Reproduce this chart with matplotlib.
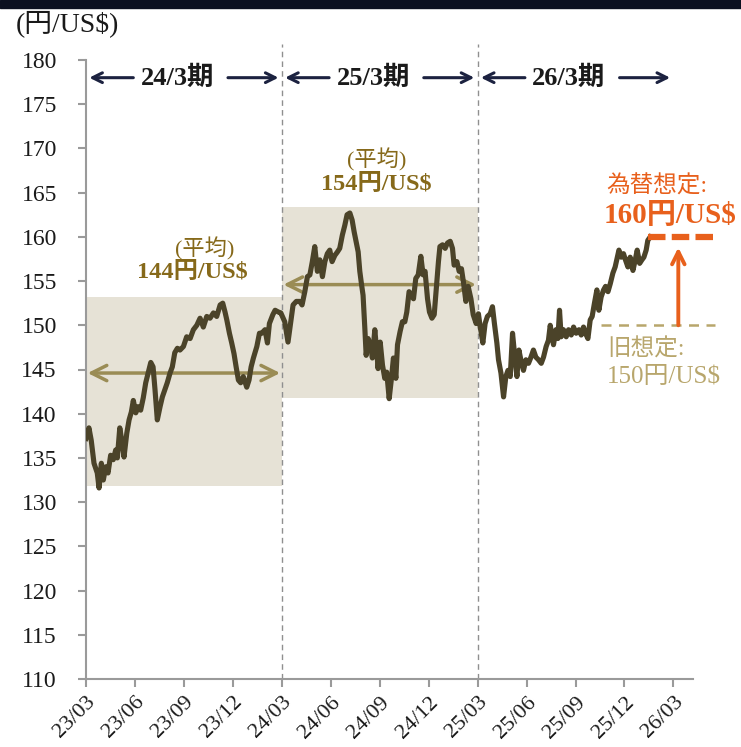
import matplotlib
matplotlib.use("Agg")
import matplotlib.pyplot as plt
from matplotlib.patches import Rectangle

plt.rcParams['font.family'] = ['Liberation Serif', 'Noto Sans CJK JP']

# USD/JPY, x = months elapsed since 2023/03
months = [0.00, 0.18, 0.32, 0.49, 0.69, 0.80, 0.94, 1.06, 1.21, 1.35, 1.51, 1.67, 1.82, 1.92,
          2.07, 2.19, 2.33, 2.50, 2.64, 2.78, 2.90, 3.05, 3.19, 3.35, 3.51, 3.66, 3.82, 3.97,
          4.11, 4.23, 4.37, 4.54, 4.68, 4.83, 4.98, 5.15, 5.29, 5.44, 5.60, 5.76, 5.97, 6.17,
          6.38, 6.58, 6.79, 6.99, 7.19, 7.40, 7.60, 7.81, 8.01, 8.22, 8.38, 8.52, 8.63, 8.79,
          8.93, 9.07, 9.20, 9.34, 9.48, 9.64, 9.85, 9.99, 10.12, 10.26, 10.47, 10.63, 10.77,
          10.97, 11.12, 11.24, 11.45, 11.59, 11.79, 11.94, 12.18, 12.38, 12.55, 12.69, 12.89,
          13.10, 13.24, 13.41, 13.57, 13.72, 13.87, 14.02, 14.18, 14.33, 14.49, 14.64, 14.79,
          14.94, 15.08, 15.25, 15.41, 15.55, 15.71, 15.86, 16.00, 16.17, 16.31, 16.43, 16.57,
          16.68, 16.78, 16.88, 16.98, 17.09, 17.17, 17.29, 17.43, 17.55, 17.70, 17.84, 17.90,
          18.03, 18.17, 18.31, 18.43, 18.58, 18.72, 18.84, 18.99, 19.09, 19.25, 19.39, 19.54,
          19.66, 19.80, 19.94, 20.07, 20.21, 20.36, 20.52, 20.66, 20.78, 20.93, 21.05, 21.20,
          21.34, 21.48, 21.60, 21.69, 21.85, 22.01, 22.15, 22.32, 22.46, 22.56, 22.73, 22.87,
          23.01, 23.13, 23.28, 23.42, 23.59, 23.73, 23.91, 24.05, 24.16, 24.32, 24.46, 24.60,
          24.77, 24.91, 25.03, 25.18, 25.28, 25.43, 25.59, 25.73, 25.86, 26.00, 26.14, 26.26,
          26.41, 26.53, 26.65, 26.81, 26.96, 27.12, 27.27, 27.42, 27.57, 27.73, 27.90, 28.04,
          28.20, 28.34, 28.45, 28.55, 28.65, 28.80, 28.92, 29.02, 29.12, 29.26, 29.43, 29.57,
          29.74, 29.88, 30.04, 30.21, 30.35, 30.49, 30.61, 30.76, 30.90, 31.02, 31.16, 31.31,
          31.43, 31.57, 31.72, 31.84, 31.99, 32.13, 32.29, 32.43, 32.56, 32.66, 32.80, 32.94,
          33.06, 33.21, 33.35, 33.52, 33.66, 33.78, 33.93, 34.07, 34.19, 34.33, 34.43, 34.58]
rate = [137.2, 138.4, 137.0, 134.4, 133.3, 131.6, 134.4, 132.5, 134.0, 133.3, 135.3, 134.8, 135.9, 135.0,
        138.4, 137.0, 135.1, 137.8, 139.3, 140.2, 141.5, 140.1, 140.8, 140.4, 141.8, 143.5, 144.7, 145.8,
        145.3, 142.7, 139.3, 140.8, 141.9, 142.7, 143.5, 144.6, 145.3, 146.9, 147.4, 147.2, 147.6, 148.7,
        148.5, 149.5, 150.0, 150.8, 149.8, 151.0, 150.8, 151.4, 151.0, 152.3, 152.5, 151.5, 150.6, 149.1,
        148.0, 146.8, 145.3, 143.8, 143.5, 144.2, 143.0, 143.8, 145.3, 146.3, 147.6, 149.1, 149.1,
        149.5, 148.0, 150.2, 151.2, 151.7, 151.5, 151.4, 150.4, 148.1, 150.4, 152.3, 152.7,
        152.7, 152.3, 153.8, 155.5, 155.7, 157.2, 158.9, 156.1, 157.4, 155.5, 157.2, 158.1,
        158.5, 157.2, 157.9, 158.3, 158.7, 160.2, 161.3, 162.5, 162.7, 161.9, 160.6, 159.3,
        158.3, 156.1, 154.7, 153.4, 149.6, 146.6, 148.5, 147.8, 146.3, 149.5, 146.6, 145.1,
        148.1, 145.5, 144.0, 144.7, 141.7, 144.0, 146.3, 144.0, 147.8, 149.3, 150.4, 150.4,
        151.5, 153.8, 153.4, 153.0, 155.3, 155.7, 157.8, 155.7, 156.1, 153.0, 151.5, 150.8,
        151.2, 154.5, 157.2, 158.9, 159.1, 158.7, 159.3, 159.5, 158.7, 156.8, 157.2, 156.1,
        156.4, 154.9, 152.7, 154.4, 153.0, 151.2, 150.2, 151.3, 149.8, 148.0, 150.2, 151.0,
        151.3, 152.1, 150.2, 148.0, 146.1, 144.6, 141.9, 144.2, 144.9, 144.2, 149.1, 146.8,
        144.2, 147.2, 146.1, 144.9, 146.1, 145.7, 146.4, 147.2, 146.4, 146.1, 145.7, 146.4,
        147.6, 148.3, 150.0, 148.9, 147.8, 149.5, 148.5, 151.7, 148.7, 149.5, 148.7, 149.5,
        148.9, 149.8, 149.1, 149.5, 148.9, 149.8, 149.1, 148.5, 150.6, 151.0, 152.5, 154.0,
        151.7, 153.2, 154.0, 154.4, 153.8, 154.7, 155.9, 156.6, 157.7, 158.5, 157.7, 158.1,
        157.4, 156.6, 157.7, 156.2, 157.4, 158.5, 157.0, 157.4, 157.7, 158.5, 159.6, 160.0]

tick_labels = ['23/03', '23/06', '23/09', '23/12', '24/03', '24/06', '24/09',
               '24/12', '25/03', '25/06', '25/09', '25/12', '26/03']

fy_names = ['24/3期', '25/3期', '26/3期']
fy_start = [0, 12, 24]
fy_avg = [144.6, 154.6]
fy_low = [131.8, 141.8]
fy_high = [153.2, 163.4]

new_assumption = 160
old_assumption = 150

navy = '#1c2240'
line_col = '#4b4329'
shade_col = '#e6e2d6'
avg_col = '#9a8c55'
avg_text = '#86691a'
orange = '#e8601c'
khaki = '#b8a66c'

fig = plt.figure(figsize=(7.41, 7.47), dpi=100)
ax = fig.add_axes([86 / 741, 1 - 679 / 747, (693 - 86) / 741, (679 - 60) / 747])

# dark band across the top
fig.patches.append(Rectangle((0, 1 - 8 / 747), 1, 8 / 747, transform=fig.transFigure,
                             color='#0b1020', zorder=5))

ax.set_xlim(0, 37.2)
ax.set_ylim(110, 180)

# fiscal-year shading and average arrows
for i in range(len(fy_avg)):
    s = fy_start[i]
    ax.add_patch(Rectangle((s, fy_low[i]), 12, fy_high[i] - fy_low[i],
                           facecolor=shade_col, edgecolor='none', zorder=0))
    ax.annotate('', xy=(s + 0.1, fy_avg[i]), xytext=(s + 11.9, fy_avg[i]),
                arrowprops=dict(arrowstyle='<->,head_length=1.1,head_width=0.55',
                                color=avg_col, lw=2.5, shrinkA=0, shrinkB=0), zorder=3)

avg_pos = [((7.3, 158.7), (6.5, 156.0)), ((17.8, 168.7), (17.8, 165.9))]
for i, ((px, py), (vx, vy)) in enumerate(avg_pos):
    ax.text(px, py, '(平均)', ha='center', va='center', fontsize=16, color=avg_text)
    ax.text(vx, vy, f'{int(fy_avg[i])}円/US$', ha='center', va='center', fontsize=17.5,
            fontweight='bold', color=avg_text)

# fiscal-year boundaries
for s in fy_start[1:]:
    ax.plot([s, s], [110, 181.8], color='#8f8f8f', lw=1, ls=(0, (4, 3)),
            clip_on=False, zorder=1)

# fiscal-year headers
hdr_y = 178.0
for i, s in enumerate(fy_start):
    ax.text(s + 5.6, hdr_y, fy_names[i], ha='center', va='center', fontsize=19,
            fontweight='bold', color='#1a1a1a')
    arrow = dict(arrowstyle='->,head_length=0.7,head_width=0.35', color=navy, lw=2.2,
                 shrinkA=0, shrinkB=0)
    ax.annotate('', xy=(s + 0.2, hdr_y), xytext=(s + 2.9, hdr_y), arrowprops=arrow)
    ax.annotate('', xy=(s + 11.8, hdr_y), xytext=(s + 8.7, hdr_y), arrowprops=arrow)

ax.plot(months, rate, color=line_col, lw=3.7, solid_joinstyle='round', zorder=4)

# exchange-rate assumptions
ax.plot([31.58, 38.56], [old_assumption, old_assumption], color=khaki, lw=1.8,
        ls=(0, (4, 3)), clip_on=False, zorder=3)
ax.plot([34.46, 38.44], [new_assumption, new_assumption], color=orange, lw=4.5,
        ls=(0, (2.8, 1.0)), clip_on=False, zorder=5)
ax.annotate('', xy=(36.3, new_assumption - 1.2), xytext=(36.3, old_assumption),
            arrowprops=dict(arrowstyle='->,head_length=0.9,head_width=0.45', color=orange,
                            lw=2.8, shrinkA=0, shrinkB=0), annotation_clip=False)
ax.text(31.9, 165.7, '為替想定:', ha='left', va='center', fontsize=17, color=orange,
        clip_on=False)
ax.text(31.75, 162.4, f'{new_assumption}円/US$', ha='left', va='center', fontsize=21,
        fontweight='bold', color=orange, clip_on=False)
ax.text(31.95, 147.3, '旧想定:', ha='left', va='center', fontsize=17, color=khaki)
ax.text(31.95, 144.1, f'{old_assumption}円/US$', ha='left', va='center', fontsize=18,
        color=khaki)

# axes styling
for side in ['top', 'right']:
    ax.spines[side].set_visible(False)
for side in ['left', 'bottom']:
    ax.spines[side].set_color('#9a9a9a')
    ax.spines[side].set_linewidth(1.5)
ax.set_yticks(range(110, 181, 5))
ax.set_xticks(range(0, 37, 3))
ax.set_xticklabels(tick_labels, rotation=45, ha='right', rotation_mode='anchor')
ax.tick_params(axis='both', direction='out', length=6, width=1.5, color='#9a9a9a',
               labelcolor='#1a1a1a')
ax.tick_params(axis='y', labelsize=17, pad=15)
ax.tick_params(axis='x', labelsize=16, pad=4)

fig.text(16 / 741, 1 - 24 / 747, '(円/US$)', ha='left', va='center', fontsize=20,
         color='#1a1a1a')

fig.savefig('out.png', dpi=100)
